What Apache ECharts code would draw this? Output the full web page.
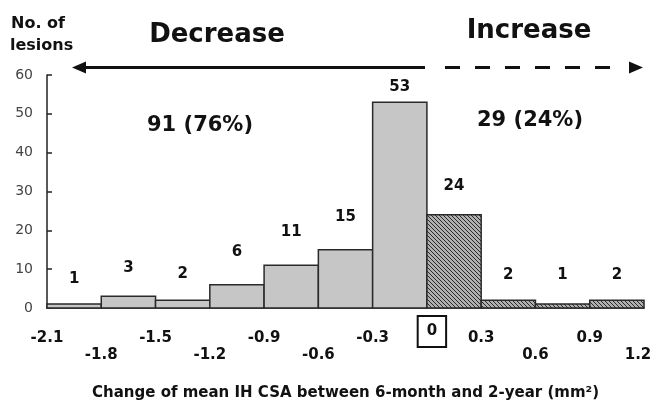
<!DOCTYPE html>
<html><head><meta charset="utf-8">
<script src="https://cdn.jsdelivr.net/npm/echarts@6/dist/echarts.min.js"></script>
<style>html,body{margin:0;padding:0;background:#fff;overflow:hidden}#c{width:652px;height:407px}</style>
</head><body><div id="c"></div>
<script>
// ---- data ----
const binEdges = [-2.1, -1.8, -1.5, -1.2, -0.9, -0.6, -0.3, 0, 0.3, 0.6, 0.9, 1.2];
const counts = [1, 3, 2, 6, 11, 15, 53, 24, 2, 1, 2];
const xTickLabels = ['-2.1', '-1.8', '-1.5', '-1.2', '-0.9', '-0.6', '-0.3', '0', '0.3', '0.6', '0.9', '1.2'];
const yTickLabels = ['0', '10', '20', '30', '40', '50', '60'];
const decreaseLabel = 'Decrease';
const increaseLabel = 'Increase';
const decreaseSummary = '91 (76%)';
const increaseSummary = '29 (24%)';
const yName = ['No. of', 'lesions'];
const xName = 'Change of mean IH CSA between 6-month and 2-year (mm\u00B2)';

// ---- style ----
const labelGap = [25, 28, 26, 33, 33, 33, 15, 29, 25, 29, 25];
const BOLD = '"DejaVu Sans", "Liberation Sans", Arial, sans-serif';

const pc = document.createElement('canvas');
pc.width = 4; pc.height = 4;
const g = pc.getContext('2d');
g.fillStyle = '#b0b0b0'; g.fillRect(0, 0, 4, 4);
g.strokeStyle = '#2a2a2a'; g.lineWidth = 1;
g.beginPath(); g.moveTo(-1, -1); g.lineTo(5, 5); g.stroke();
g.beginPath(); g.moveTo(-1, 3); g.lineTo(1, 5); g.stroke();
g.beginPath(); g.moveTo(3, -1); g.lineTo(5, 1); g.stroke();
const hatch = { image: pc, repeat: 'repeat' };

const barData = counts.map((c, i) => [binEdges[i], binEdges[i + 1], c]);

const tickStyle = { fontSize: 15, fontWeight: 'bold', fontFamily: BOLD, color: '#111' };

const chart = echarts.init(document.getElementById('c'), null, { renderer: 'canvas', width: 652, height: 407 });
chart.setOption({
  animation: false,
  backgroundColor: '#fff',
  grid: { left: 47, right: 8, top: 75, bottom: 99, containLabel: false, outerBoundsMode: 'none' },
  xAxis: {
    type: 'value', min: -2.1, max: 1.2, interval: 0.3,
    axisLine: { show: true, onZero: false, lineStyle: { color: '#222', width: 1.5 } },
    axisTick: { show: false },
    splitLine: { show: false },
    axisLabel: {
      margin: 7, verticalAlign: 'top',
      fontSize: 15, fontWeight: 'bold', fontFamily: BOLD, color: '#111',
      formatter: function (v) {
        const r = Math.round(v * 10) / 10;
        const i = binEdges.findIndex(e => Math.abs(e - r) < 1e-6);
        const t = xTickLabels[i];
        if (t === '0') return '{sp|}{z|' + t + '}';
        if (i === xTickLabels.length - 1) return '{e|' + t + '}';
        return (i % 2 === 0 ? '{u|' : '{l|') + t + '}';
      },
      rich: {
        u: Object.assign({ lineHeight: 46 }, tickStyle),
        l: Object.assign({ lineHeight: 80 }, tickStyle),
        e: Object.assign({ lineHeight: 80, padding: [0, 12, 0, 0] }, tickStyle),
        sp: { width: 10, lineHeight: 33 },
        z: Object.assign({ lineHeight: 17, padding: [8, 9, 8, 9], borderColor: '#111', borderWidth: 2 }, tickStyle)
      }
    },
    name: xName, nameLocation: 'middle', nameGap: 78,
    nameTextStyle: { fontFamily: BOLD, fontWeight: 'bold', fontSize: 15, color: '#111' }
  },
  yAxis: {
    type: 'value', min: 0, max: 60, interval: 10,
    axisLine: { show: true, onZero: false, lineStyle: { color: '#222', width: 1.5 } },
    axisTick: { show: true, inside: true, length: 5, lineStyle: { color: '#222', width: 1.5 } },
    splitLine: { show: false },
    axisLabel: {
      margin: 14, color: '#444', fontFamily: '"DejaVu Sans", sans-serif', fontSize: 14,
      formatter: function (v) { return yTickLabels[Math.round(v / 10)]; }
    }
  },
  series: [{
    type: 'custom',
    data: barData,
    encode: { x: [0, 1], y: 2 },
    clip: false,
    renderItem: function (params, api) {
      const x0 = api.value(0), x1 = api.value(1), v = api.value(2);
      const p0 = api.coord([x0, v]), p1 = api.coord([x1, 0]);
      const inc = x0 >= 0;
      return {
        type: 'group',
        children: [
          { type: 'rect', shape: { x: p0[0], y: p0[1], width: p1[0] - p0[0], height: p1[1] - p0[1] },
            style: { fill: inc ? hatch : '#c6c6c6', stroke: '#2a2a2a', lineWidth: 1.5 } },
          { type: 'text', x: (p0[0] + p1[0]) / 2, y: p0[1] - labelGap[params.dataIndex],
            style: { text: String(v), fill: '#111', font: 'bold 15px ' + BOLD, align: 'center', verticalAlign: 'middle' } }
        ]
      };
    }
  }],
  graphic: [
    { type: 'text', left: 11, top: 16, style: { text: yName[0], fill: '#111', font: 'bold 16px ' + BOLD } },
    { type: 'text', left: 10, top: 38, style: { text: yName[1], fill: '#111', font: 'bold 16px ' + BOLD } },
    { type: 'text', x: 217, y: 35, style: { text: decreaseLabel, fill: '#111', font: 'bold 26px ' + BOLD, align: 'center', verticalAlign: 'middle' } },
    { type: 'text', x: 529, y: 31, style: { text: increaseLabel, fill: '#111', font: 'bold 26px ' + BOLD, align: 'center', verticalAlign: 'middle' } },
    { type: 'text', x: 200, y: 126, style: { text: decreaseSummary, fill: '#111', font: 'bold 21px ' + BOLD, align: 'center', verticalAlign: 'middle' } },
    { type: 'text', x: 530, y: 121, style: { text: increaseSummary, fill: '#111', font: 'bold 21px ' + BOLD, align: 'center', verticalAlign: 'middle' } },
    { type: 'line', shape: { x1: 83, y1: 67.5, x2: 425, y2: 67.5 }, style: { stroke: '#111', lineWidth: 3 } },
    { type: 'polygon', shape: { points: [[72, 67.5], [86, 61.5], [86, 73.5]] }, style: { fill: '#111' } },
    { type: 'line', shape: { x1: 445, y1: 67.5, x2: 625, y2: 67.5 }, style: { stroke: '#111', lineWidth: 3, lineDash: [15, 15] } },
    { type: 'polygon', shape: { points: [[643, 67.5], [629, 61.5], [629, 73.5]] }, style: { fill: '#111' } }
  ]
});
</script>
</body></html>
